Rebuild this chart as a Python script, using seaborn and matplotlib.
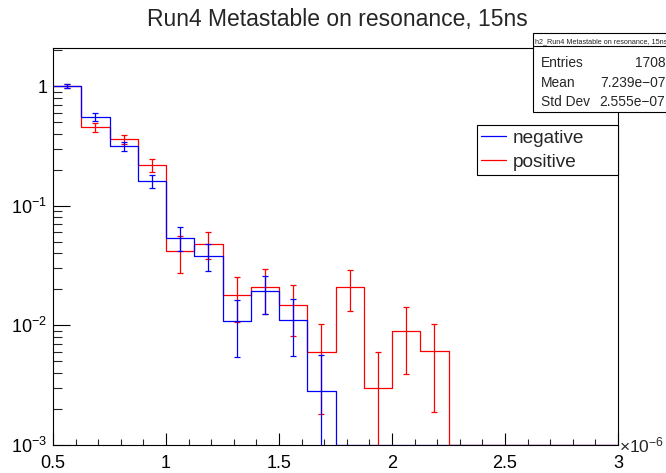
import numpy as np
import pandas as pd
import matplotlib
matplotlib.use("Agg")
import matplotlib.pyplot as plt
import matplotlib.ticker as mticker
from matplotlib.patches import Rectangle
from matplotlib.lines import Line2D
import seaborn as sns

# ---- histogram contents (x in units of 1e-6 s) ----
bin_edges = [0.5, 0.625, 0.75, 0.875, 1.0, 1.125, 1.25, 1.375, 1.5, 1.625, 1.75,
             1.875, 2.0, 2.125, 2.25, 2.375, 2.5, 2.625, 2.75, 2.875, 3.0]
negative = [1.0, 0.554, 0.313, 0.160, 0.054, 0.0382, 0.0109, 0.0193, 0.0110, 0.0028,
            0, 0, 0, 0, 0, 0, 0, 0, 0, 0]
negative_err = [0.045, 0.041, 0.028, 0.020, 0.0125, 0.010, 0.0055, 0.0068, 0.0055, 0.0028,
                0, 0, 0, 0, 0, 0, 0, 0, 0, 0]
positive = [1.0, 0.452, 0.359, 0.220, 0.0416, 0.0479, 0.0179, 0.0209, 0.0149, 0.0060,
            0.0210, 0.0030, 0.0090, 0.0061, 0, 0, 0, 0, 0, 0]
positive_err = [0.045, 0.040, 0.033, 0.027, 0.0142, 0.012, 0.0073, 0.0084, 0.0067, 0.0042,
                0.0078, 0.0030, 0.0051, 0.0042, 0, 0, 0, 0, 0, 0]

title = "Run4 Metastable on resonance, 15ns"
stats_title = "h2_Run4 Metastable on resonance, 15ns"
stats_rows = [("Entries", "1708"), ("Mean", "7.239e\u221207"), ("Std Dev", "2.555e\u221207")]
x_ticks = [0.5, 1, 1.5, 2, 2.5, 3]
y_min, y_max = 1e-3, 2.08

sns.set_theme(style="white")
plt.rcParams["font.family"] = ["Liberation Sans", "DejaVu Sans"]
plt.rcParams["mathtext.fontset"] = "custom"
plt.rcParams["mathtext.rm"] = "Liberation Sans"
plt.rcParams["mathtext.it"] = "Liberation Sans:italic"
plt.rcParams["mathtext.bf"] = "Liberation Sans:bold"

W, H = 666, 473
fig = plt.figure(figsize=(W / 100, H / 100), dpi=100)
fig.patch.set_facecolor("white")


def fx(p):
    return p / W


def fy(p):
    return 1 - p / H


ax = fig.add_axes([fx(53), fy(445), fx(618) - fx(53), fy(48) - fy(445)])
ax.set_facecolor("white")
ax.set_yscale("log")

edges = np.array(bin_edges)
centers = 0.5 * (edges[:-1] + edges[1:])
LW = 0.9


def draw_hist(vals, errs, color, label):
    vals = np.array(vals, dtype=float)
    errs = np.array(errs, dtype=float)
    shown = np.where(vals > 0, vals, y_min)
    df = pd.DataFrame({"x": edges, "y": np.append(shown, shown[-1])})
    sns.lineplot(data=df, x="x", y="y", ax=ax, color=color, linewidth=LW,
                 drawstyle="steps-post", estimator=None, sort=False, label=label,
                 legend=False)
    m = vals > 0
    lo = np.minimum(errs[m], vals[m] - 1e-7)
    ax.errorbar(centers[m], vals[m], yerr=[lo, errs[m]], fmt="none", ecolor=color,
                elinewidth=LW, capsize=1.9, capthick=LW)


draw_hist(positive, positive_err, "#ff0000", "positive")
draw_hist(negative, negative_err, "#0000ff", "negative")

ax.set_xlim(edges[0], edges[-1])
ax.set_ylim(y_min, y_max)
ax.set_xlabel("")
ax.set_ylabel("")

ax.xaxis.set_major_locator(mticker.FixedLocator(x_ticks))
ax.xaxis.set_minor_locator(mticker.MultipleLocator(0.1))
ax.xaxis.set_major_formatter(mticker.FuncFormatter(lambda v, p: f"{v:g}"))
ax.yaxis.set_major_locator(mticker.LogLocator(base=10, numticks=10))
ax.yaxis.set_minor_locator(mticker.LogLocator(base=10, subs=np.arange(2, 10), numticks=10))
ax.yaxis.set_minor_formatter(mticker.NullFormatter())


def yfmt(v, p):
    e = int(round(np.log10(v)))
    return "1" if e == 0 else r"$10^{%d}$" % e


ax.yaxis.set_major_formatter(mticker.FuncFormatter(yfmt))

ax.tick_params(axis="x", which="major", direction="in", length=8.6, width=0.8,
               labelsize=13, pad=7, colors="black", bottom=True, top=False)
ax.tick_params(axis="x", which="minor", direction="in", length=4.3, width=0.8,
               bottom=True, top=False)
ax.tick_params(axis="y", which="major", direction="in", length=12.2, width=0.8,
               labelsize=13, pad=4, colors="black", left=True, right=False)
ax.tick_params(axis="y", which="minor", direction="in", length=6.5, width=0.8,
               left=True, right=False)
for s in ax.spines.values():
    s.set_visible(True)
    s.set_color("black")
    s.set_linewidth(0.8)

# exponent of the x axis
fig.text(fx(619), fy(452), r"$\times10^{-6}$", fontsize=12.5, ha="left", va="baseline")

# title
fig.text(fx(337), fy(26), title, fontsize=16.5, ha="center", va="baseline")

# legend
handles = [Line2D([], [], color="#0000ff", lw=LW), Line2D([], [], color="#ff0000", lw=LW)]
leg = fig.legend(handles, ["negative", "positive"], loc="upper left",
                 bbox_to_anchor=(fx(477), fy(175), fx(618) - fx(477), fy(125) - fy(175)),
                 mode="expand", fontsize=13.7, handlelength=1.3, handletextpad=0.35,
                 labelspacing=0.38, borderpad=0.22, borderaxespad=0, fancybox=False,
                 frameon=True, framealpha=1)
leg.get_frame().set_edgecolor("black")
leg.get_frame().set_linewidth(0.8)

# statistics box
box = Rectangle((fx(533), fy(112)), fx(700) - fx(533), fy(33) - fy(112),
                transform=fig.transFigure, facecolor="white", edgecolor="black",
                linewidth=0.8, zorder=5)
fig.add_artist(box)
fig.add_artist(Line2D([fx(533), fx(700)], [fy(46.5), fy(46.5)], transform=fig.transFigure,
                      color="black", lw=0.8, zorder=6))
fig.text(fx(535), fy(43), stats_title, fontsize=5.2, ha="left", va="baseline", zorder=7)
row_y = [67, 87, 106]
for (name, val), yy in zip(stats_rows, row_y):
    fig.text(fx(541), fy(yy), name, fontsize=9.9, ha="left", va="baseline", zorder=7)
    fig.text(fx(665.5), fy(yy), val, fontsize=9.9, ha="right", va="baseline", zorder=7)

fig.savefig("out.png", dpi=100)
